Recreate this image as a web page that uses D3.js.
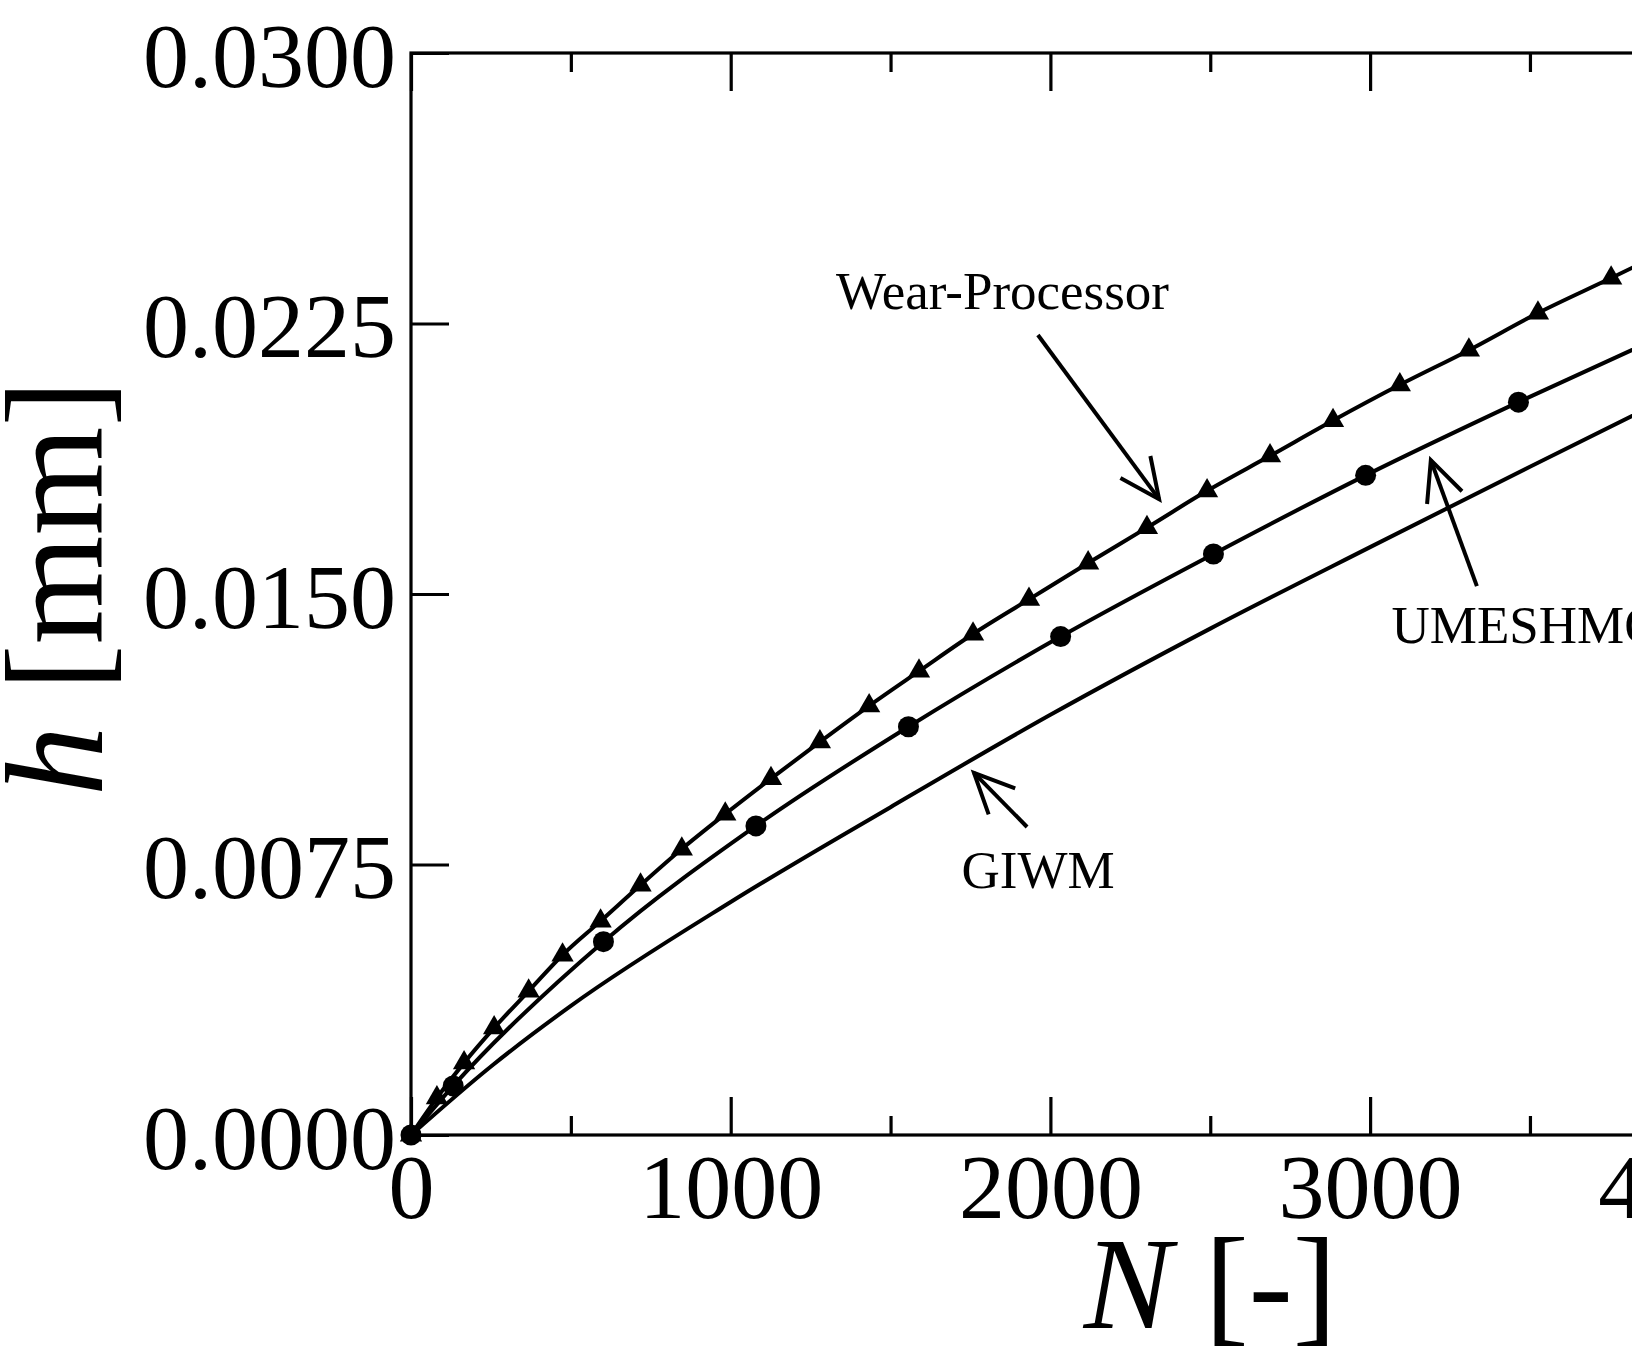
<!DOCTYPE html>
<html>
<head>
<meta charset="utf-8">
<script src="https://cdn.jsdelivr.net/npm/d3@7"></script>
<style>
  html, body { margin: 0; padding: 0; background: #fff; }
  svg { display: block; }
</style>
</head>
<body>
<svg id="chart" width="1632" height="1353"></svg>
<script>
// ---------- data ----------
const xMajorTicks = [0, 1000, 2000, 3000, 4000, 5000];
const xMinorTicks = [500, 1500, 2500, 3500, 4500];
const yTicks = [0, 0.0075, 0.015, 0.0225, 0.03];

// Wear-Processor (triangles)
const wearN = [0, 81, 166, 260, 368, 474, 593, 718, 847, 983, 1126, 1279, 1433, 1589, 1758, 1933, 2118, 2302, 2490, 2687, 2884, 3093, 3309, 3525, 3754, 3985];
const wearH = [0, 0.00103, 0.00200, 0.00297, 0.00399, 0.00499, 0.00593, 0.00693, 0.00793, 0.00890, 0.00988, 0.01090, 0.01190, 0.01286, 0.01389, 0.01485, 0.01586, 0.01684, 0.01786, 0.01883, 0.01981, 0.02080, 0.02176, 0.02279, 0.02376, 0.02476];

// UMESHMOTION (circles)
const umN = [0, 132, 602, 1079, 1556, 2032, 2510, 2986, 3464, 3941];
const umH = [0, 0.00136, 0.00536, 0.00857, 0.01132, 0.01382, 0.01611, 0.01829, 0.02032, 0.02226];

// GIWM (plain line)
const giwmN = [0, 250, 500, 1000, 1500, 2000, 2500, 3000, 3500, 4000];
const giwmH = [0, 0.00190, 0.00358, 0.00646, 0.00909, 0.01165, 0.01404, 0.01630, 0.01853, 0.02073];

// annotations (data coordinates)
const labelText = ["Wear-Processor", "UMESHMOTION", "GIWM"];
const labelN = [1329, 3067, 1722];
const labelH = [0.02290, 0.01363, 0.00686];
const arrowFromN = [1961, 3334, 1927];
const arrowFromH = [0.02218, 0.01522, 0.00854];
const arrowToN = [2340, 3190, 1761];
const arrowToH = [0.01763, 0.01871, 0.01004];

// ---------- layout ----------
const FONT = "'Liberation Serif', 'Times New Roman', Times, serif";
const svg = d3.select("#chart");
const pL = 411, pR = 2009.5, pT = 53, pB = 1135;

const x = d3.scaleLinear().domain([0, 5000]).range([pL, pR]);
const y = d3.scaleLinear().domain([0, 0.03]).range([pB, pT]);

const zip = (a, b) => a.map((v, i) => [v, b[i]]);
const wear = zip(wearN, wearH);
const um = zip(umN, umH);
const giwm = zip(giwmN, giwmH);

// ---------- frame ----------
svg.append("rect")
  .attr("x", pL).attr("y", pT)
  .attr("width", pR - pL).attr("height", pB - pT)
  .attr("fill", "none").attr("stroke", "#000").attr("stroke-width", 3.2);

function styleAxis(g) {
  g.select(".domain").remove();
  g.selectAll(".tick line").attr("stroke", "#000").attr("stroke-width", 3.2);
  g.selectAll("text").attr("font-family", FONT).attr("fill", "#000");
}

// bottom major
const gxb = svg.append("g").attr("transform", `translate(0,${pB})`)
  .call(d3.axisBottom(x).tickValues(xMajorTicks).tickSize(-38).tickFormat(d3.format("d")))
  .call(styleAxis);
gxb.selectAll("text").attr("font-size", 92).attr("y", 83).attr("dy", null);
// bottom minor
svg.append("g").attr("transform", `translate(0,${pB})`)
  .call(d3.axisBottom(x).tickValues(xMinorTicks).tickSize(-19).tickFormat(""))
  .call(styleAxis);
// top major/minor
svg.append("g").attr("transform", `translate(0,${pT})`)
  .call(d3.axisTop(x).tickValues(xMajorTicks).tickSize(-38).tickFormat(""))
  .call(styleAxis);
svg.append("g").attr("transform", `translate(0,${pT})`)
  .call(d3.axisTop(x).tickValues(xMinorTicks).tickSize(-19).tickFormat(""))
  .call(styleAxis);
// left
const gyl = svg.append("g").attr("transform", `translate(${pL},0)`)
  .call(d3.axisLeft(y).tickValues(yTicks).tickSize(-38).tickFormat(d3.format(".4f")))
  .call(styleAxis);
gyl.selectAll("text").attr("font-size", 92).attr("x", -15).attr("y", 33).attr("dy", null);
// right
svg.append("g").attr("transform", `translate(${pR},0)`)
  .call(d3.axisRight(y).tickValues(yTicks).tickSize(-38).tickFormat(""))
  .call(styleAxis);

// ---------- curves ----------
const line = d3.line().x(d => x(d[0])).y(d => y(d[1])).curve(d3.curveMonotoneX);

[giwm, um, wear].forEach(s => {
  svg.append("path").datum(s)
    .attr("d", line)
    .attr("fill", "none").attr("stroke", "#000").attr("stroke-width", 4)
    .attr("stroke-linejoin", "round");
});

// triangles
svg.append("g").selectAll("path").data(wear).join("path")
  .attr("transform", d => `translate(${x(d[0])},${y(d[1])})`)
  .attr("d", d3.symbol(d3.symbolTriangle, 215))
  .attr("fill", "#000");

// circles
svg.append("g").selectAll("circle").data(um).join("circle")
  .attr("cx", d => x(d[0])).attr("cy", d => y(d[1]))
  .attr("r", 10.5).attr("fill", "#000");

// ---------- annotations ----------
labelText.forEach((t, i) => {
  svg.append("text")
    .attr("x", x(labelN[i])).attr("y", y(labelH[i]))
    .attr("font-family", FONT).attr("font-size", 53).attr("fill", "#000")
    .text(t);

  const x0 = x(arrowFromN[i]), y0 = y(arrowFromH[i]);
  const x1 = x(arrowToN[i]), y1 = y(arrowToH[i]);
  svg.append("line")
    .attr("x1", x0).attr("y1", y0).attr("x2", x1).attr("y2", y1)
    .attr("stroke", "#000").attr("stroke-width", 4);
  const ang = Math.atan2(y0 - y1, x0 - x1);
  const L = 44, half = 25 * Math.PI / 180;
  const p1 = [x1 + L * Math.cos(ang + half), y1 + L * Math.sin(ang + half)];
  const p2 = [x1 + L * Math.cos(ang - half), y1 + L * Math.sin(ang - half)];
  svg.append("path")
    .attr("d", `M${p1[0]},${p1[1]}L${x1},${y1}L${p2[0]},${p2[1]}`)
    .attr("fill", "none").attr("stroke", "#000").attr("stroke-width", 4)
    .attr("stroke-linejoin", "miter");
});

// ---------- axis titles ----------
const xt = svg.append("text")
  .attr("x", (pL + pR) / 2).attr("y", 1328)
  .attr("text-anchor", "middle")
  .attr("font-family", FONT).attr("font-size", 132).attr("fill", "#000");
xt.append("tspan").attr("font-style", "italic").text("N");
xt.append("tspan").text(" [-]");

const yt = svg.append("text")
  .attr("transform", `translate(102,588) rotate(-90)`)
  .attr("text-anchor", "middle")
  .attr("font-family", FONT).attr("font-size", 140).attr("fill", "#000");
yt.append("tspan").attr("font-style", "italic").text("h");
yt.append("tspan").text(" [mm]");
</script>
</body>
</html>
